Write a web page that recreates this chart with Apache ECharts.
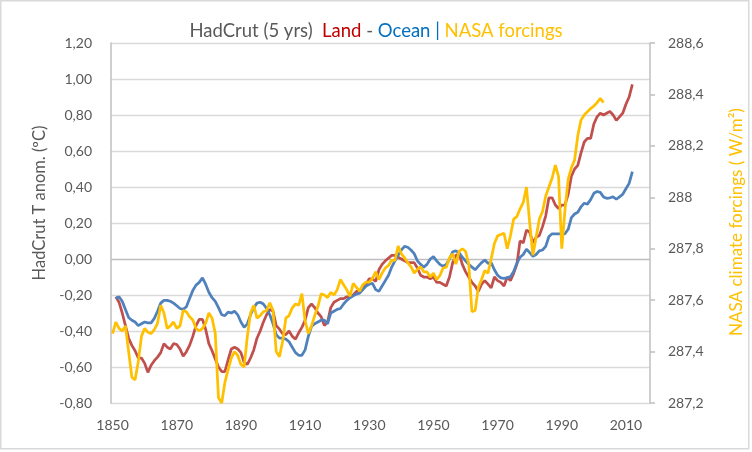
<!DOCTYPE html>
<html>
<head>
<meta charset="utf-8">
<script src="https://cdn.jsdelivr.net/npm/echarts@6/dist/echarts.min.js"></script>
<style>
html,body{margin:0;padding:0;background:#fff;}
#chart{width:752px;height:452px;}
</style>
</head>
<body>
<div id="chart"></div>
<script>
// Years (category axis)
var years = [];
for (var y = 1850; y <= 2017; y++) years.push(String(y));

// HadCrut Land (5 yrs), starting 1850 (null) .. 2012
var land = [null,
 -0.21,-0.24,-0.30,-0.37,-0.44,-0.48,-0.51,-0.55,-0.55,
 -0.58,-0.63,-0.59,-0.565,-0.545,-0.52,-0.47,-0.49,-0.50,-0.47,
 -0.475,-0.50,-0.54,-0.515,-0.48,-0.43,-0.37,-0.335,-0.335,-0.39,
 -0.47,-0.51,-0.555,-0.60,-0.625,-0.625,-0.56,-0.50,-0.49,-0.50,
 -0.52,-0.575,-0.585,-0.55,-0.505,-0.44,-0.40,-0.35,-0.31,-0.28,
 -0.29,-0.37,-0.39,-0.415,-0.42,-0.40,-0.43,-0.445,-0.41,-0.38,
 -0.34,-0.27,-0.25,-0.27,-0.30,-0.32,-0.37,-0.35,-0.27,-0.24,
 -0.23,-0.22,-0.22,-0.21,-0.21,-0.20,-0.18,-0.18,-0.16,-0.14,
 -0.11,-0.11,-0.125,-0.06,-0.03,-0.01,0.005,0.02,0.02,0.01,
 0.00,-0.01,-0.02,-0.02,-0.02,-0.05,-0.09,-0.10,-0.10,-0.11,
 -0.10,-0.13,-0.13,-0.14,-0.15,-0.10,-0.02,0.02,0.03,-0.03,
 -0.07,-0.10,-0.13,-0.15,-0.18,-0.14,-0.12,-0.14,-0.16,-0.10,
 -0.12,-0.13,-0.15,-0.10,-0.12,-0.08,-0.03,0.10,0.09,0.16,
 0.15,0.09,0.12,0.13,0.18,0.24,0.34,0.34,0.30,0.28,
 0.30,0.30,0.36,0.46,0.50,0.52,0.59,0.65,0.67,0.67,
 0.75,0.79,0.81,0.80,0.81,0.82,0.80,0.77,0.79,0.81,
 0.86,0.90,0.97];

// HadCrut Ocean (5 yrs), starting 1850 (null) .. 2012
var ocean = [null,
 -0.22,-0.21,-0.235,-0.28,-0.325,-0.34,-0.35,-0.37,-0.36,
 -0.35,-0.355,-0.355,-0.33,-0.29,-0.245,-0.23,-0.23,-0.235,-0.245,
 -0.26,-0.275,-0.28,-0.265,-0.22,-0.175,-0.145,-0.13,-0.105,-0.14,
 -0.185,-0.215,-0.235,-0.27,-0.31,-0.315,-0.295,-0.30,-0.29,-0.31,
 -0.35,-0.38,-0.36,-0.31,-0.27,-0.245,-0.24,-0.25,-0.275,-0.31,
 -0.36,-0.42,-0.44,-0.44,-0.445,-0.46,-0.49,-0.52,-0.535,-0.535,
 -0.505,-0.43,-0.375,-0.36,-0.35,-0.34,-0.34,-0.36,-0.30,-0.29,
 -0.28,-0.275,-0.25,-0.23,-0.215,-0.205,-0.195,-0.19,-0.17,-0.15,
 -0.14,-0.135,-0.17,-0.18,-0.15,-0.12,-0.09,-0.045,-0.01,0.02,
 0.05,0.07,0.065,0.05,0.03,-0.01,-0.03,-0.045,-0.03,0.00,
 0.013,-0.01,-0.03,-0.04,-0.03,0.00,0.04,0.045,0.035,0.01,
 -0.01,-0.03,-0.045,-0.06,-0.04,-0.02,-0.006,-0.024,-0.02,-0.06,
 -0.09,-0.105,-0.107,-0.105,-0.098,-0.07,-0.024,0.01,0.025,0.055,
 0.035,0.015,0.025,0.045,0.05,0.07,0.125,0.14,0.14,0.14,
 0.14,0.14,0.165,0.23,0.25,0.26,0.29,0.31,0.305,0.33,
 0.365,0.375,0.37,0.345,0.337,0.34,0.345,0.332,0.345,0.36,
 0.39,0.42,0.485];

// NASA climate forcings (right axis), 1850 .. 2003
var forcings = [
 287.47,287.515,287.49,287.48,287.50,287.40,287.30,287.29,287.36,287.46,
 287.49,287.475,287.47,287.485,287.51,287.58,287.55,287.49,287.50,287.515,
 287.49,287.50,287.56,287.555,287.535,287.523,287.49,287.48,287.49,287.51,
 287.55,287.53,287.47,287.22,287.20,287.28,287.33,287.375,287.40,287.385,
 287.35,287.34,287.46,287.55,287.58,287.53,287.54,287.555,287.56,287.59,
 287.56,287.40,287.38,287.44,287.53,287.54,287.57,287.585,287.58,287.625,
 287.52,287.47,287.50,287.54,287.575,287.625,287.62,287.61,287.63,287.62,
 287.64,287.68,287.66,287.64,287.615,287.665,287.65,287.635,287.66,287.67,
 287.67,287.685,287.71,287.68,287.705,287.725,287.735,287.755,287.755,287.81,
 287.78,287.765,287.745,287.73,287.705,287.72,287.73,287.71,287.71,287.69,
 287.705,287.68,287.695,287.725,287.728,287.765,287.78,287.74,287.79,287.80,
 287.79,287.74,287.555,287.56,287.65,287.68,287.715,287.705,287.76,287.82,
 287.85,287.855,287.86,287.80,287.85,287.915,287.925,287.955,287.98,288.04,
 287.90,287.775,287.845,287.915,287.945,288.005,288.04,288.075,288.125,288.08,
 287.80,287.95,288.07,288.115,288.145,288.24,288.30,288.32,288.333,288.345,
 288.355,288.368,288.385,288.368];

var leftTicks = [-0.8, 1.2, 0.2];
var rightTicks = [287.2, 288.6, 0.2];

var FONT = 'Lato, "Noto Sans", sans-serif';
var GREY = '#595959';

var chart = echarts.init(document.getElementById('chart'), null, {renderer: 'canvas'});
var gridColors = [];
for (var i = 0; i <= 10; i++) gridColors.push(i === 4 ? '#bfbfbf' : '#d9d9d9');

var TS = 18.5;
chart.setOption({
  animation: false,
  backgroundColor: '#ffffff',
  title: {
    left: 'center',
    top: 17,
    text: '{g|HadCrut (5 yrs)  }{r|Land}{g| - }{b|Ocean | }{y|NASA forcings}',
    textStyle: {
      fontFamily: FONT,
      fontSize: TS,
      fontWeight: 'normal',
      rich: {
        g: {color: GREY, fontFamily: FONT, fontSize: TS},
        r: {color: '#c00000', fontFamily: FONT, fontSize: TS},
        b: {color: '#0070c0', fontFamily: FONT, fontSize: TS},
        y: {color: '#ffc000', fontFamily: FONT, fontSize: TS}
      }
    }
  },
  grid: {left: 111, right: 102, top: 43, bottom: 49, containLabel: false},
  xAxis: {
    type: 'category',
    data: years,
    boundaryGap: true,
    axisLine: {show: false},
    axisTick: {show: false},
    axisLabel: {interval: 19, color: GREY, fontFamily: FONT, fontSize: 14, margin: 15},
    splitLine: {show: false}
  },
  yAxis: [{
    type: 'value',
    min: leftTicks[0], max: leftTicks[1], interval: leftTicks[2],
    axisLine: {show: true, lineStyle: {color: '#bfbfbf', width: 1.5}},
    axisTick: {show: false},
    axisLabel: {
      color: GREY, fontFamily: FONT, fontSize: 14, margin: 19,
      formatter: function (v) { return v.toFixed(2).replace('.', ','); }
    },
    splitLine: {show: true, lineStyle: {color: gridColors, width: 1.3}}
  }, {
    type: 'value',
    min: rightTicks[0], max: rightTicks[1], interval: rightTicks[2],
    axisLine: {show: true, lineStyle: {color: '#bfbfbf', width: 1.5}},
    axisTick: {show: true, length: 5, lineStyle: {color: '#bfbfbf', width: 1.5}},
    axisLabel: {
      color: GREY, fontFamily: FONT, fontSize: 14, margin: 18,
      formatter: function (v) { return String(Math.round(v * 10) / 10).replace('.', ','); }
    },
    splitLine: {show: false}
  }],
  graphic: [
    {type: 'rect', shape: {x: 0.75, y: 0.75, width: 748, height: 448}, style: {fill: 'none', stroke: '#d9d9d9', lineWidth: 1.5}, silent: true},
    {type: 'text', x: 40, y: 203, rotation: Math.PI / 2,
     style: {text: 'HadCrut T anom. (ºC)', fill: GREY, font: '16.5px ' + FONT, textAlign: 'center', textVerticalAlign: 'middle'}},
    {type: 'text', x: 737, y: 222, rotation: Math.PI / 2,
     style: {text: 'NASA climate forcings ( W/m²)', fill: '#ffc000', font: '17px ' + FONT, textAlign: 'center', textVerticalAlign: 'middle'}}
  ],
  series: [{
    name: 'Land', type: 'line', data: land, yAxisIndex: 0,
    symbol: 'none', lineStyle: {color: '#c0504d', width: 2.75}, itemStyle: {color: '#c0504d'}
  }, {
    name: 'Ocean', type: 'line', data: ocean, yAxisIndex: 0,
    symbol: 'none', lineStyle: {color: '#4f81bd', width: 2.75}, itemStyle: {color: '#4f81bd'}
  }, {
    name: 'NASA forcings', type: 'line', data: forcings, yAxisIndex: 1,
    symbol: 'none', lineStyle: {color: '#ffc000', width: 2.75}, itemStyle: {color: '#ffc000'}
  }]
});
</script>
</body>
</html>
